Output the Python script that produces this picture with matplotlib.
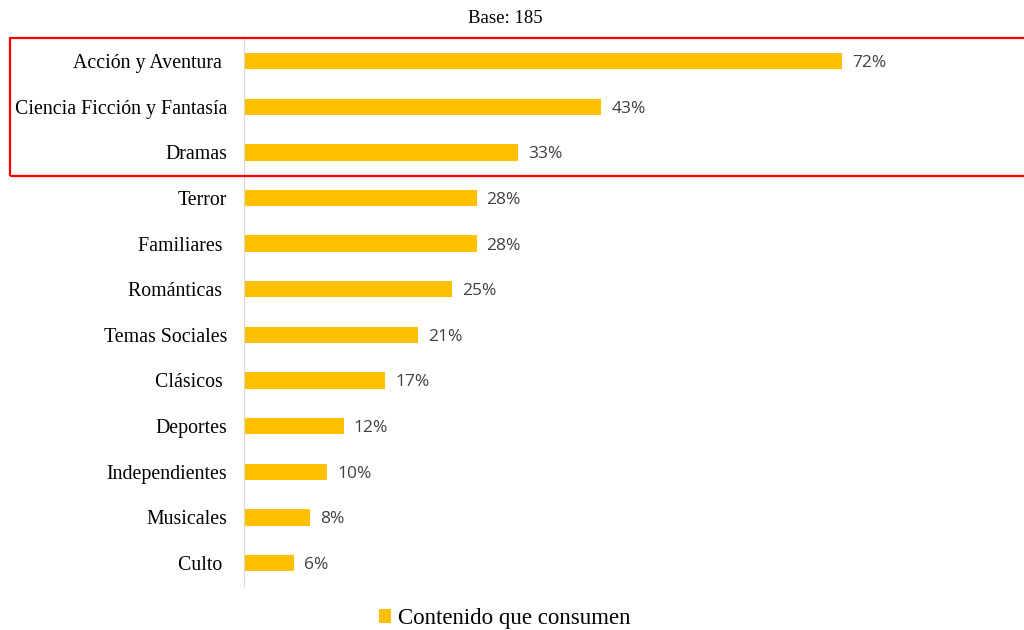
import matplotlib.pyplot as plt
from matplotlib.patches import Rectangle

# categorias y porcentajes
generos = ['Acción y Aventura ', 'Ciencia Ficción y Fantasía', 'Dramas', 'Terror',
           'Familiares ', 'Románticas ', 'Temas Sociales', 'Clásicos ',
           'Deportes', 'Independientes', 'Musicales', 'Culto ']
porcentajes = [72, 43, 33, 28, 28, 25, 21, 17, 12, 10, 8, 6]

amarillo = '#FFC000'

fig = plt.figure(figsize=(10.24, 6.3), dpi=100)
ax = fig.add_axes([0.2383, 0.0702, 0.7578, 0.869])

y = list(range(len(generos)))
ax.barh(y, porcentajes, height=0.36, color=amarillo, label='Contenido que consumen')
ax.set_ylim(len(generos) - 0.5, -0.5)
ax.set_xlim(0, 93.4)

ax.set_yticks(y)
ax.set_yticklabels(generos, fontfamily='Liberation Serif', fontsize=14.3)
ax.tick_params(axis='y', length=0, pad=12)
ax.set_xticks([])
for s in ['top', 'right', 'bottom']:
    ax.spines[s].set_visible(False)
ax.spines['left'].set_color('#d9d9d9')

for yi, v in zip(y, porcentajes):
    ax.text(v + 1.2, yi, f'{v}%', va='center_baseline', ha='left', fontsize=12.5,
            color='#404040', fontfamily='Open Sans')

fig.text(0.493, 0.971, 'Base: 185', ha='center', va='center',
         fontfamily='Liberation Serif', fontsize=13.5)

fig.legend(loc='center', bbox_to_anchor=(0.493, 0.018), frameon=False,
           prop={'family': 'Liberation Serif', 'size': 16.5},
           handlelength=0.55, handleheight=0.55, handletextpad=0.3)

# recuadro rojo sobre los tres primeros
fig.patches.append(Rectangle((10 / 1024, 1 - 176 / 630), 1.02, 138 / 630,
                             transform=fig.transFigure, fill=False,
                             edgecolor='#ff0000', linewidth=1.6))

fig.savefig('out.png', dpi=100)
